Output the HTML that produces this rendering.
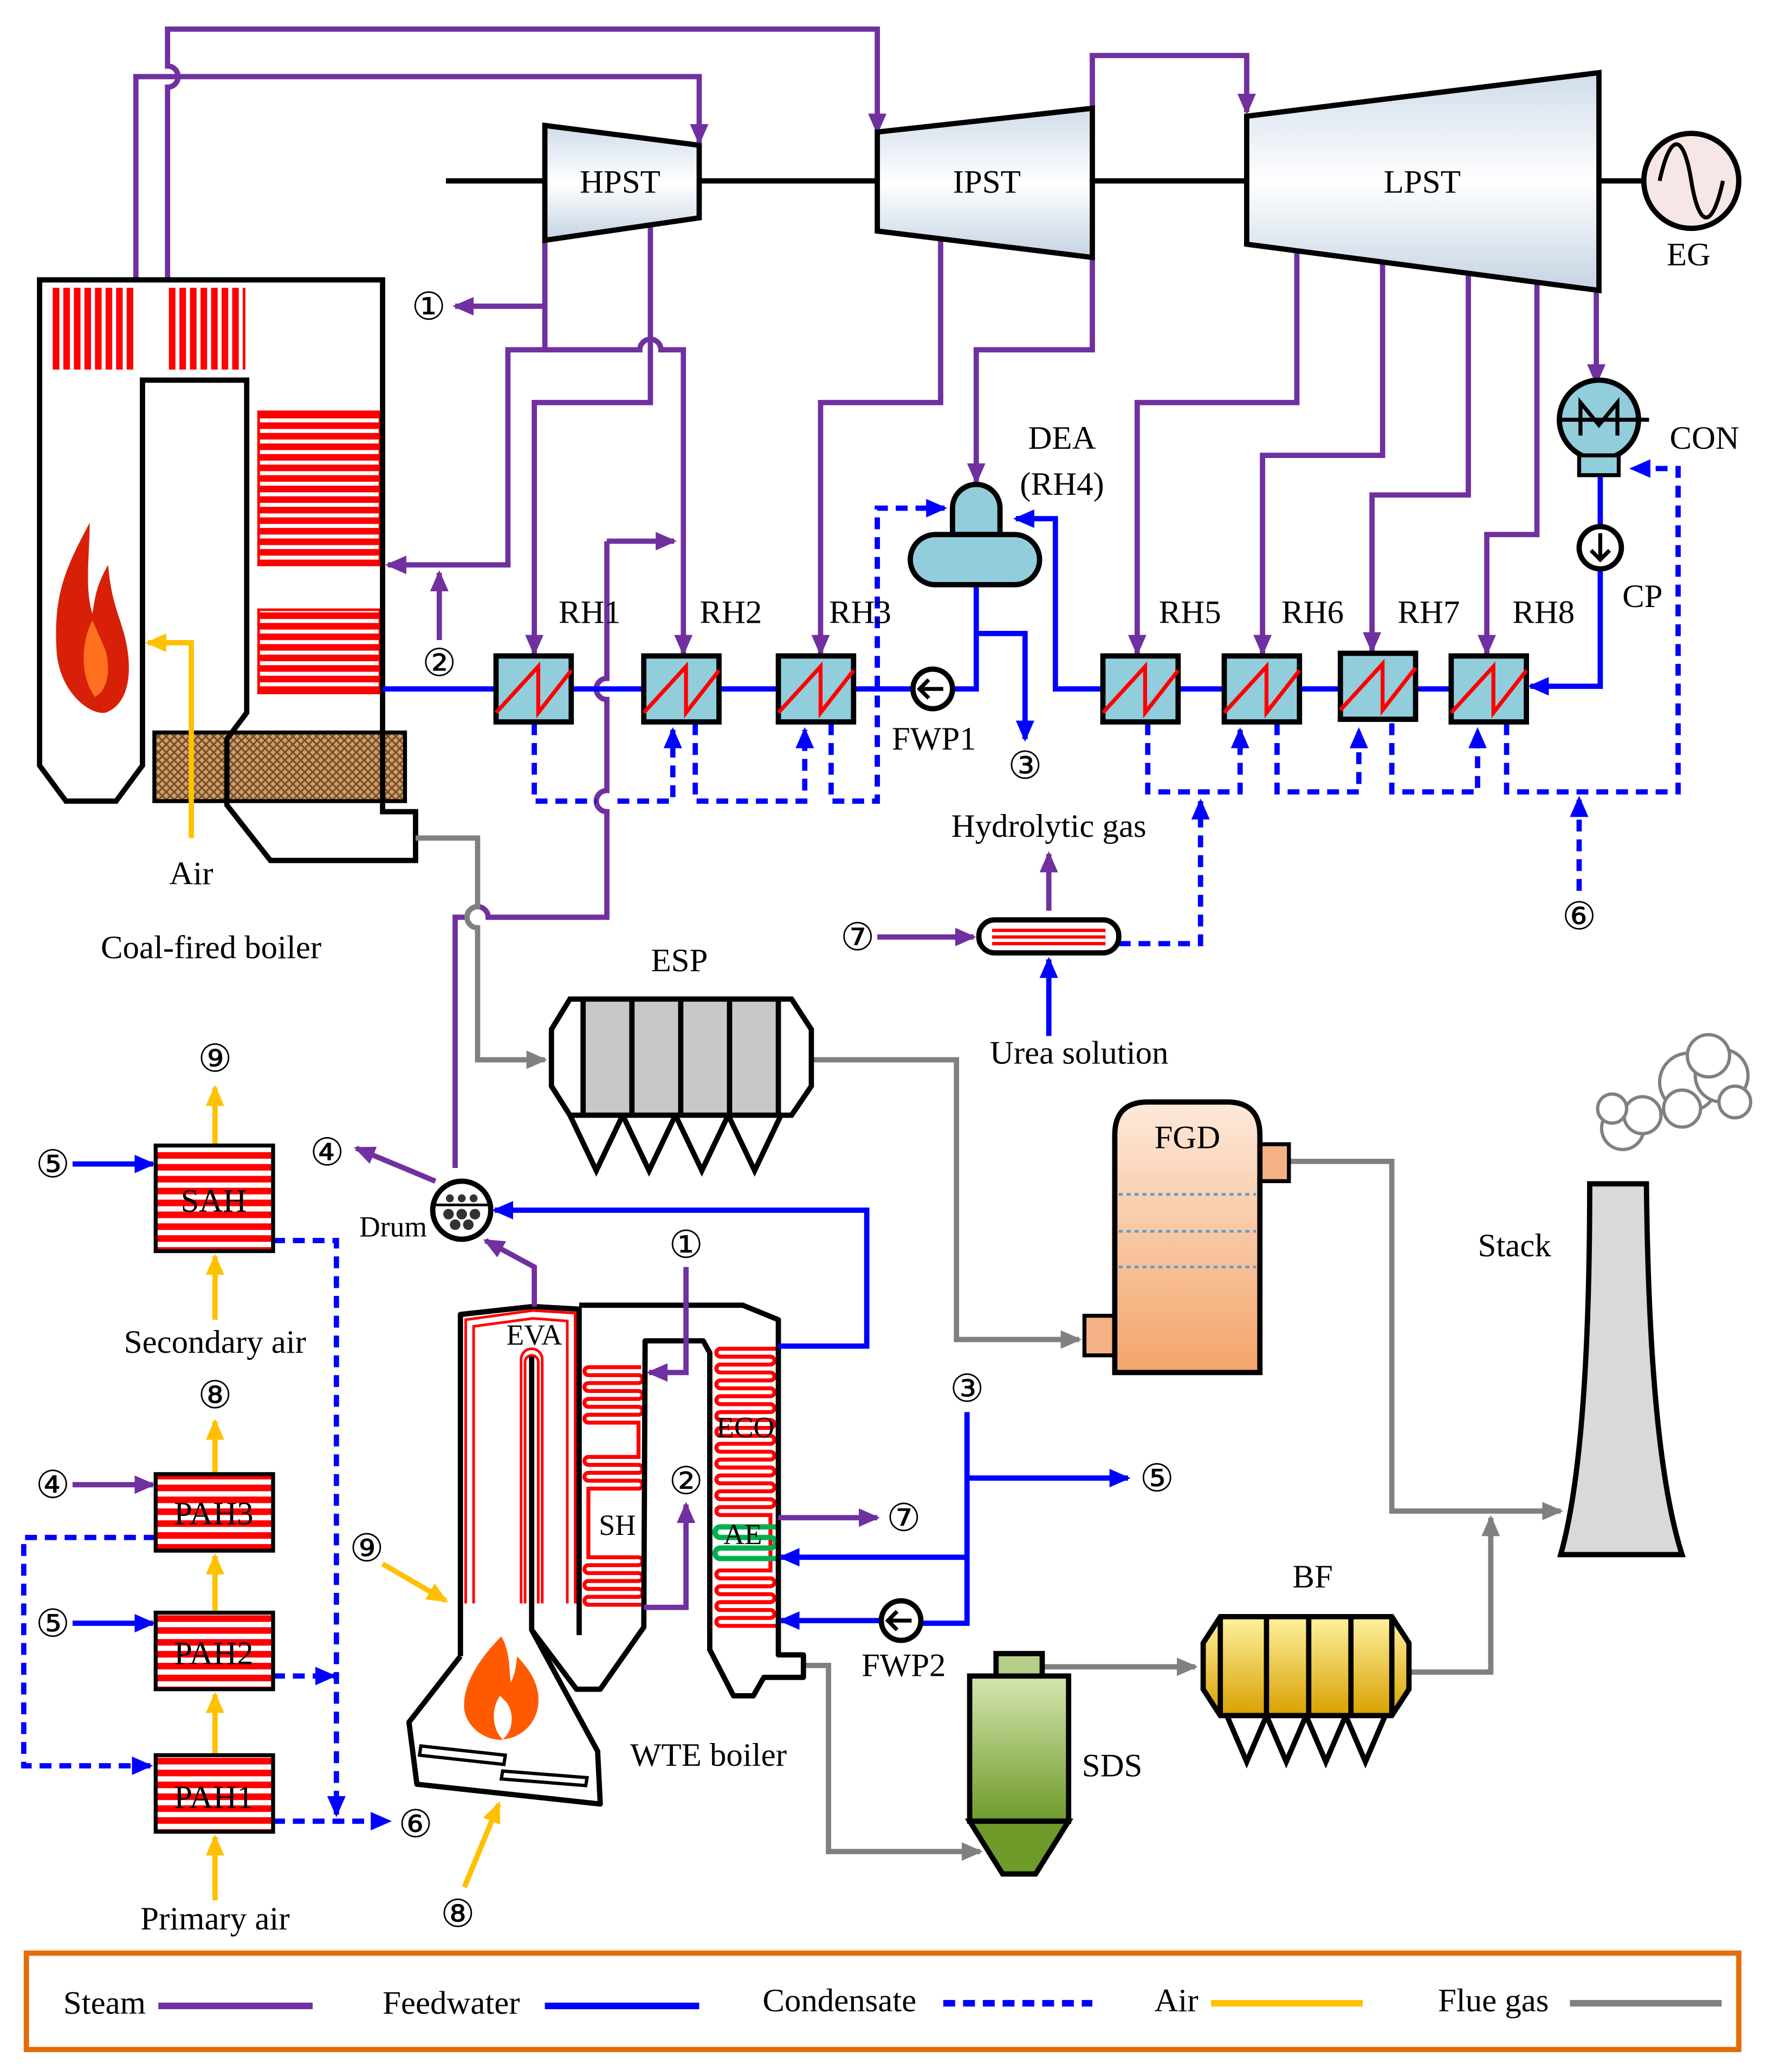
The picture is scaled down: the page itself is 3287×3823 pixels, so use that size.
<!DOCTYPE html>
<html><head><meta charset="utf-8"><style>
html,body{margin:0;padding:0;background:#fff}
svg{display:block}
text{font-family:"Liberation Serif","DejaVu Serif",serif;font-size:25px;fill:#000}
.n{font-family:"DejaVu Sans","Liberation Sans",sans-serif;font-size:29px}
</style></head><body>
<svg width="3287" height="3823" viewBox="0 0 1350 1570" xmlns="http://www.w3.org/2000/svg">
<defs>
<marker id="ap" markerWidth="16" markerHeight="14" refX="14" refY="7" orient="auto" markerUnits="userSpaceOnUse"><path d="M0,0 L16,7 L0,14 Z" fill="#7030A0"/></marker>
<marker id="ab" markerWidth="16" markerHeight="14" refX="14" refY="7" orient="auto" markerUnits="userSpaceOnUse"><path d="M0,0 L16,7 L0,14 Z" fill="#0000FF"/></marker>
<marker id="ay" markerWidth="16" markerHeight="14" refX="14" refY="7" orient="auto" markerUnits="userSpaceOnUse"><path d="M0,0 L16,7 L0,14 Z" fill="#FFC000"/></marker>
<marker id="ag" markerWidth="16" markerHeight="14" refX="14" refY="7" orient="auto" markerUnits="userSpaceOnUse"><path d="M0,0 L16,7 L0,14 Z" fill="#808080"/></marker>
<linearGradient id="tg" x1="0" y1="0" x2="0" y2="1"><stop offset="0" stop-color="#D0DCEA"/><stop offset="0.5" stop-color="#FFFFFF"/><stop offset="1" stop-color="#C5D3E3"/></linearGradient>
<linearGradient id="fg" x1="0" y1="0" x2="0" y2="1"><stop offset="0" stop-color="#FDE9DA"/><stop offset="1" stop-color="#F4A46A"/></linearGradient>
<linearGradient id="yg" x1="0" y1="0" x2="0" y2="1"><stop offset="0" stop-color="#FFF2A0"/><stop offset="1" stop-color="#D9A000"/></linearGradient>
<linearGradient id="gg" x1="0" y1="0" x2="0" y2="1"><stop offset="0" stop-color="#D6E6B0"/><stop offset="1" stop-color="#6E9A2A"/></linearGradient>
<pattern id="hatch" width="6" height="6" patternUnits="userSpaceOnUse"><rect width="6" height="6" fill="#C9A070"/><path d="M0,0L6,6M6,0L0,6" stroke="#7A4A20" stroke-width="1.2"/></pattern>
<pattern id="vs" width="8" height="8" patternUnits="userSpaceOnUse"><rect width="8" height="8" fill="#fff"/><rect width="5" height="8" fill="#FF0000"/></pattern>
<pattern id="hs" width="8" height="8" patternUnits="userSpaceOnUse"><rect width="8" height="8" fill="#fff"/><rect width="8" height="5" fill="#FF0000"/></pattern>
<pattern id="hs2" width="8" height="9" patternUnits="userSpaceOnUse"><rect width="8" height="9" fill="#fff"/><rect width="8" height="5" fill="#FF0000"/></pattern>
</defs>

<!-- Steam lines top -->
<g fill="none" stroke="#7030A0" stroke-width="4">
<path d="M103,212 V58 H530 V108" marker-end="url(#ap)"/>
<path d="M127,212 V66 A8,8 0 0 0 127,50 V22 H665 V100" marker-end="url(#ap)"/>
<path d="M828,82 V42 H945 V85" marker-end="url(#ap)"/>
<path d="M413,182 V232 H345" marker-end="url(#ap)"/>
<path d="M413,232 V265 H385 V428 H294" marker-end="url(#ap)"/>
<path d="M413,265 H485 A8,8 0 0 1 501,265 H518 V495" marker-end="url(#ap)"/>
<path d="M493,172 V305 H405 V495" marker-end="url(#ap)"/>
<path d="M333,485 V434" marker-end="url(#ap)"/>
<path d="M713,180 V305 H622 V495" marker-end="url(#ap)"/>
<path d="M828,195 V265 H740 V365" marker-end="url(#ap)"/>
<path d="M983,190 V305 H862 V495" marker-end="url(#ap)"/>
<path d="M1048,200 V345 H957 V495" marker-end="url(#ap)"/>
<path d="M1113,208 V375 H1040 V493" marker-end="url(#ap)"/>
<path d="M1165,215 V405 H1127 V495" marker-end="url(#ap)"/>
<path d="M1210,220 V290" marker-end="url(#ap)"/>
<path d="M460,410 H511" marker-end="url(#ap)"/>
<path d="M460,410 V514 A8,8 0 0 0 460,530 V599 A8,8 0 0 0 460,615 V695 H370 A8,8 0 0 0 354,695 H345 V885"/>
<path d="M665,710 H738" marker-end="url(#ap)"/>
<path d="M795,690 V647" marker-end="url(#ap)"/>
</g>

<line x1="338" y1="137" x2="1250" y2="137" stroke="#000" stroke-width="4"/>
<g stroke="#000" stroke-width="4" fill="url(#tg)">
<polygon points="413,95 530,110 530,165 413,182"/>
<polygon points="665,100 828,82 828,195 665,175"/>
<polygon points="945,88 1212,55 1212,220 945,185"/>
</g>
<text x="470" y="146" text-anchor="middle">HPST</text>
<text x="748" y="146" text-anchor="middle">IPST</text>
<text x="1078" y="146" text-anchor="middle">LPST</text>
<circle cx="1282" cy="137" r="36" fill="#F7E6E6" stroke="#000" stroke-width="4"/>
<path d="M1258,137 C1266,100 1276,100 1282,137 C1288,174 1298,174 1306,137" fill="none" stroke="#000" stroke-width="3"/>
<text x="1280" y="201" text-anchor="middle">EG</text>

<!-- Coal-fired boiler -->
<rect x="37" y="218" width="67" height="62" fill="url(#vs)"/>
<rect x="127" y="218" width="59" height="62" fill="url(#vs)"/>
<rect x="196" y="312" width="92" height="116" fill="url(#hs)" stroke="#FF0000" stroke-width="2"/>
<rect x="196" y="462" width="92" height="63" fill="url(#hs)" stroke="#FF0000" stroke-width="2"/>
<rect x="117" y="555" width="190" height="52" fill="url(#hatch)" stroke="#000" stroke-width="3"/>
<g fill="none" stroke="#000" stroke-width="4">
<path d="M30,212 H290 V615 H315 V652 H205 L172,610 V560 L187,540 V288 H108 V580 L88,607 H50 L30,580 Z"/>
</g>
<path d="M68,396 C50,430 40,450 43,495 C46,525 68,542 80,540 C97,534 102,510 94,480 C88,460 84,452 82,428 C72,445 72,455 70,465 C64,445 68,420 68,396 Z" fill="#D82008"/>
<path d="M70,470 C60,490 62,515 72,528 C84,522 84,500 78,488 Z" fill="#FF7020"/>
<path d="M145,635 V487 H112" fill="none" stroke="#FFC000" stroke-width="4" marker-end="url(#ay)"/>
<text x="145" y="670" text-anchor="middle">Air</text>
<text x="160" y="726" text-anchor="middle">Coal-fired boiler</text>
<text class="n" x="325" y="242" text-anchor="middle">①</text>
<text class="n" x="333" y="512" text-anchor="middle">②</text>

<g fill="none" stroke="#0000FF" stroke-width="4">
<path d="M290,522 H692"/>
<path d="M722,522 H740 V445"/>
<path d="M740,480 H777 V560" marker-end="url(#ab)"/>
<path d="M836,522 H800 V393 H770" marker-end="url(#ab)"/>
<path d="M836,522 H1100"/>
<path d="M1213,345 V398"/>
<path d="M1213,432 V520 H1160" marker-end="url(#ab)"/>
<path d="M795,785 V727" marker-end="url(#ab)"/>
</g>
<g fill="none" stroke="#0000FF" stroke-width="4" stroke-dasharray="9,6">
<path d="M405,548 V607 H452 M468,607 H510 V553" marker-end="url(#ab)"/>
<path d="M527,548 V607 H610 V553" marker-end="url(#ab)"/>
<path d="M630,548 V607 H665 V385 H716" marker-end="url(#ab)"/>
<path d="M870,548 V600 H940 V553" marker-end="url(#ab)"/>
<path d="M968,548 V600 H1030 V553" marker-end="url(#ab)"/>
<path d="M1055,548 V600 H1120 V553" marker-end="url(#ab)"/>
<path d="M1142,548 V600 H1272 V355 H1237" marker-end="url(#ab)"/>
<path d="M1197,675 V605" marker-end="url(#ab)"/>
<path d="M848,715 H910 V607" marker-end="url(#ab)"/>
</g>
<g stroke="#000" stroke-width="4" fill="#92CDDC">
<rect x="376" y="497" width="57" height="50"/><rect x="488" y="497" width="57" height="50"/>
<rect x="590" y="497" width="57" height="50"/><rect x="836" y="497" width="57" height="50"/>
<rect x="928" y="497" width="57" height="50"/><rect x="1016" y="495" width="57" height="50"/>
<rect x="1100" y="497" width="57" height="50"/>
</g>
<g fill="none" stroke="#FF0000" stroke-width="3">
<path d="M376,540 L408,505 V540 L433,508"/><path d="M488,540 L520,505 V540 L545,508"/>
<path d="M590,540 L622,505 V540 L647,508"/><path d="M836,540 L868,505 V540 L893,508"/>
<path d="M928,540 L960,505 V540 L985,508"/><path d="M1016,538 L1048,503 V538 L1073,506"/>
<path d="M1100,540 L1132,505 V540 L1157,508"/>
</g>
<text x="447" y="472" text-anchor="middle">RH1</text><text x="554" y="472" text-anchor="middle">RH2</text>
<text x="652" y="472" text-anchor="middle">RH3</text><text x="902" y="472" text-anchor="middle">RH5</text>
<text x="995" y="472" text-anchor="middle">RH6</text><text x="1083" y="472" text-anchor="middle">RH7</text>
<text x="1170" y="472" text-anchor="middle">RH8</text>
<circle cx="707" cy="522" r="15" fill="#fff" stroke="#000" stroke-width="4"/>
<path d="M715,522 H697 M704,515 L697,522 L704,529" fill="none" stroke="#000" stroke-width="3"/>
<text x="708" y="568" text-anchor="middle">FWP1</text>
<text class="n" x="777" y="590" text-anchor="middle">③</text>
<path d="M722,405 V385 A18,18 0 0 1 758,385 V405 Z" fill="#92CDDC" stroke="#000" stroke-width="4"/>
<rect x="690" y="405" width="98" height="38" rx="19" fill="#92CDDC" stroke="#000" stroke-width="4"/>
<text x="805" y="340" text-anchor="middle">DEA</text><text x="805" y="375" text-anchor="middle">(RH4)</text>
<circle cx="1212" cy="318" r="30" fill="#92CDDC" stroke="#000" stroke-width="4"/>
<rect x="1197" y="345" width="30" height="15" fill="#92CDDC" stroke="#000" stroke-width="3"/>
<path d="M1182,318 H1250 M1198,330 V305 L1212,322 L1226,305 V330" fill="none" stroke="#000" stroke-width="3"/>
<text x="1292" y="340" text-anchor="middle">CON</text>
<circle cx="1213" cy="415" r="16" fill="#fff" stroke="#000" stroke-width="4"/>
<path d="M1213,404 V424 M1206,417 L1213,424 L1220,417" fill="none" stroke="#000" stroke-width="3"/>
<text x="1245" y="460" text-anchor="middle">CP</text>
<text class="n" x="1197" y="704" text-anchor="middle">⑥</text>
<rect x="742" y="697" width="106" height="25" rx="12" fill="#fff" stroke="#000" stroke-width="4"/>
<path d="M752,705 H838 M752,710 H838 M752,715 H838" stroke="#FF0000" stroke-width="2.5"/>
<text class="n" x="650" y="720" text-anchor="middle">⑦</text>
<text x="795" y="634" text-anchor="middle">Hydrolytic gas</text>
<text x="818" y="806" text-anchor="middle">Urea solution</text>

<g fill="none" stroke="#808080" stroke-width="4">
<path d="M315,635 H362 V687 A8,8 0 0 0 362,703 V803 H413" marker-end="url(#ag)"/>
<path d="M615,803 H725 V1015 H818" marker-end="url(#ag)"/>
<path d="M977,880 H1055 V1145 H1183" marker-end="url(#ag)"/>
<path d="M1068,1267 H1130 V1150" marker-end="url(#ag)"/>
<path d="M790,1263 H906" marker-end="url(#ag)"/>
<path d="M609,1262 H628 V1403 H743" marker-end="url(#ag)"/>
</g>
<g stroke="#000" stroke-width="4">
<path d="M432,845 L452,887 L472,845 L492,887 L512,845 L532,887 L552,845 L572,887 L592,845" fill="#fff"/>
<polygon points="418,780 432,757 600,757 615,780 615,823 600,845 432,845 418,823" fill="#fff"/>
<rect x="442" y="757" width="37" height="88" fill="#C8C8C8"/><rect x="479" y="757" width="37" height="88" fill="#C8C8C8"/>
<rect x="516" y="757" width="37" height="88" fill="#C8C8C8"/><rect x="553" y="757" width="37" height="88" fill="#C8C8C8"/>
</g>
<text x="515" y="736" text-anchor="middle">ESP</text>
<rect x="822" y="997" width="23" height="30" fill="#F4B183" stroke="#000" stroke-width="3"/>
<rect x="955" y="867" width="22" height="28" fill="#F4B183" stroke="#000" stroke-width="3"/>
<path d="M845,1040 V860 Q845,835 870,835 H930 Q955,835 955,860 V1040 Z" fill="url(#fg)" stroke="#000" stroke-width="4"/>
<g stroke="#5B9BD5" stroke-width="2" stroke-dasharray="3,3"><path d="M848,905 H952 M848,933 H952 M848,960 H952"/></g>
<text x="900" y="870" text-anchor="middle">FGD</text>
<path d="M1205,897 H1248 Q1250,1100 1275,1178 H1183 Q1205,1100 1205,897 Z" fill="#D9D9D9" stroke="#000" stroke-width="4"/>
<text x="1148" y="952" text-anchor="middle">Stack</text>
<g fill="#fff" stroke="#808080" stroke-width="2.5">
<circle cx="1230" cy="855" r="16"/><circle cx="1245" cy="845" r="14"/><circle cx="1222" cy="840" r="11"/>
<circle cx="1280" cy="820" r="22"/><circle cx="1305" cy="815" r="20"/><circle cx="1295" cy="800" r="16"/><circle cx="1275" cy="840" r="14"/><circle cx="1315" cy="835" r="12"/>
</g>
<g stroke="#000" stroke-width="4">
<path d="M930,1300 L945,1335 L960,1300 L975,1335 L990,1300 L1005,1335 L1020,1300 L1035,1335 L1050,1300" fill="#fff"/>
<polygon points="912,1245 925,1225 1055,1225 1068,1245 1068,1280 1055,1300 925,1300 912,1280" fill="url(#yg)"/>
<path d="M925,1225 V1300 M960,1225 V1300 M992,1225 V1300 M1024,1225 V1300 M1055,1225 V1300" fill="none"/>
</g>
<text x="995" y="1203" text-anchor="middle">BF</text>
<g stroke="#000" stroke-width="4">
<rect x="755" y="1253" width="35" height="17" fill="#B5CF88"/>
<rect x="735" y="1270" width="75" height="110" fill="url(#gg)"/>
<polygon points="735,1380 810,1380 785,1420 760,1420" fill="#6E9A2A"/>
</g>
<text x="843" y="1346" text-anchor="middle">SDS</text>

<!-- WTE boiler -->
<g fill="none" stroke="#FF0000" stroke-width="2">
<path d="M353,1215 V1000 L404,993 L436,995 V1215 M359,1215 V1005 L404,999 L430,1001 V1215"/>
<path d="M398,1215 V1032 A5,5 0 0 1 408,1032 V1215 M395,1215 V1030 A8,8 0 0 1 411,1030 V1215"/>
</g>
<g fill="none" stroke="#FF0000" stroke-width="3">
<path d="M486,1036 H446 A2.5,2.5 0 0 0 446,1042 H484 A2.5,2.5 0 0 1 484,1048 H446 A2.5,2.5 0 0 0 446,1054 H484 A2.5,2.5 0 0 1 484,1060 H446 A2.5,2.5 0 0 0 446,1066 H484 A2.5,2.5 0 0 1 484,1072 H446 A2.5,2.5 0 0 0 446,1078 H484 V1104 H446 A2.5,2.5 0 0 0 446,1110 H484 A2.5,2.5 0 0 1 484,1116 H446 A2.5,2.5 0 0 0 446,1122 H484 A2.5,2.5 0 0 1 484,1128 H446 V1180 H484 A2.5,2.5 0 0 1 484,1186 H446 A2.5,2.5 0 0 0 446,1192 H484 A2.5,2.5 0 0 1 484,1198 H446 A2.5,2.5 0 0 0 446,1204 H484 A2.5,2.5 0 0 1 484,1210 H446 A2.5,2.5 0 0 0 446,1216 H486"/>
<path d="M589,1022 H546 A3,3 0 0 0 546,1028 H584 A3,3 0 0 1 584,1034 H546 A3,3 0 0 0 546,1040 H584 A3,3 0 0 1 584,1046 H546 A3,3 0 0 0 546,1052 H584 A3,3 0 0 1 584,1058 H546 A3,3 0 0 0 546,1064 H584 A3,3 0 0 1 584,1070 H546 A3,3 0 0 0 546,1076 H584 A3,3 0 0 1 584,1082 H546 A3,3 0 0 0 546,1088 H584 A3,3 0 0 1 584,1094 H546 A3,3 0 0 0 546,1100 H584 A3,3 0 0 1 584,1106 H546 A3,3 0 0 0 546,1112 H584 A3,3 0 0 1 584,1118 H546 A3,3 0 0 0 546,1124 H584 A3,3 0 0 1 584,1130 H546 A3,3 0 0 0 546,1136 H584 A3,3 0 0 1 584,1142 H546 A3,3 0 0 0 546,1148 H584 V1190 H546 A3,3 0 0 0 546,1196 H584 A3,3 0 0 1 584,1202 H546 A3,3 0 0 0 546,1208 H584 A3,3 0 0 1 584,1214 H546 A3,3 0 0 0 546,1220 H584 A3,3 0 0 1 584,1226 H546 A3,3 0 0 0 546,1232 H589"/>
</g>
<path d="M589,1157 H546 A3,3 0 0 0 546,1165 H584 A3,3 0 0 1 584,1173 H546 A3,3 0 0 0 546,1181 H589" fill="none" stroke="#00B050" stroke-width="4"/>
<g fill="none" stroke="#000" stroke-width="4" stroke-linejoin="round">
<path d="M349,1255 V996 L404,990 L439,992 V1239"/>
<path d="M439,989 H563 L590,1000 V1254 H609 V1271 H579 L571,1285 H556 L538,1250 V1025 L533,1016 H489 L488,1233 L455,1280 H437 L403,1235"/>
<path d="M349,1255 L310,1305 L316,1352 L455,1367 L453,1327 L403,1235 V1028"/>
</g>
<path d="M380,1240 C362,1258 350,1278 352,1296 C355,1312 372,1320 382,1318 C398,1316 410,1302 408,1284 C406,1270 398,1262 392,1255 C391,1266 389,1272 387,1275 C386,1262 386,1250 380,1240 Z" fill="#FF5A00"/>
<path d="M379,1285 C372,1295 373,1310 381,1318 C389,1312 390,1298 384,1290 Z" fill="#fff"/>
<g fill="#fff" stroke="#000" stroke-width="2.5"><polygon points="319,1323 383,1330 382,1337 318,1330"/><polygon points="381,1342 445,1347 444,1353 380,1348"/></g>
<text x="405" y="1019" text-anchor="middle" style="font-size:22px">EVA</text>
<text x="468" y="1163" text-anchor="middle" style="font-size:22px">SH</text>
<text x="565" y="1089" text-anchor="middle" style="font-size:22px">ECO</text>
<text x="563" y="1170" text-anchor="middle" style="font-size:22px">AE</text>
<text x="537" y="1338" text-anchor="middle">WTE boiler</text>
<g fill="none" stroke="#7030A0" stroke-width="4">
<path d="M405,990 V960 L368,940" marker-end="url(#ap)"/>
<path d="M330,895 L270,870" marker-end="url(#ap)"/>
<path d="M520,960 V1040 H492" marker-end="url(#ap)"/>
<path d="M488,1218 H520 V1140" marker-end="url(#ap)"/>
<path d="M590,1150 H665" marker-end="url(#ap)"/>
<path d="M55,1125 H116" marker-end="url(#ap)"/>
</g>
<g fill="none" stroke="#0000FF" stroke-width="4">
<path d="M590,1020 H657 V917 H375" marker-end="url(#ab)"/>
<path d="M733,1070 V1230 H698"/>
<path d="M668,1228 H592" marker-end="url(#ab)"/>
<path d="M733,1180 H592" marker-end="url(#ab)"/>
<path d="M733,1120 H855" marker-end="url(#ab)"/>
<path d="M55,882 H116" marker-end="url(#ab)"/>
<path d="M55,1230 H116" marker-end="url(#ab)"/>
</g>
<circle cx="350" cy="917" r="22" fill="#fff" stroke="#000" stroke-width="4"/>
<path d="M330,913 H370" stroke="#000" stroke-width="2"/>
<g fill="#333"><circle cx="340" cy="920" r="4"/><circle cx="350" cy="920" r="4"/><circle cx="360" cy="920" r="4"/><circle cx="345" cy="928" r="4"/><circle cx="355" cy="928" r="4"/><circle cx="350" cy="908" r="3"/><circle cx="341" cy="908" r="3"/><circle cx="359" cy="908" r="3"/></g>
<text x="298" y="937" text-anchor="middle" style="font-size:22px">Drum</text>
<circle cx="683" cy="1228" r="15" fill="#fff" stroke="#000" stroke-width="4"/>
<path d="M691,1228 H673 M680,1221 L673,1228 L680,1235" fill="none" stroke="#000" stroke-width="3"/>
<text x="685" y="1270" text-anchor="middle">FWP2</text>
<g fill="none" stroke="#FFC000" stroke-width="4">
<path d="M290,1185 L338,1213" marker-end="url(#ay)"/>
<path d="M352,1430 L378,1367" marker-end="url(#ay)"/>
<path d="M163,868 V824" marker-end="url(#ay)"/>
<path d="M163,1000 V952" marker-end="url(#ay)"/>
<path d="M163,1117 V1077" marker-end="url(#ay)"/>
<path d="M163,1222 V1179" marker-end="url(#ay)"/>
<path d="M163,1330 V1284" marker-end="url(#ay)"/>
<path d="M163,1440 V1392" marker-end="url(#ay)"/>
</g>
<g fill="none" stroke="#0000FF" stroke-width="4" stroke-dasharray="9,6">
<path d="M207,940 H255 V1375" marker-end="url(#ab)"/>
<path d="M207,1270 H253" marker-end="url(#ab)"/>
<path d="M207,1380 H295" marker-end="url(#ab)"/>
<path d="M118,1165 H18 V1338 H114" marker-end="url(#ab)"/>
</g>
<g stroke="#000" stroke-width="3" fill="url(#hs2)">
<rect x="118" y="868" width="89" height="80"/><rect x="118" y="1117" width="89" height="58"/>
<rect x="118" y="1222" width="89" height="58"/><rect x="118" y="1330" width="89" height="58"/>
</g>
<g style="font-size:24px">
<text x="162" y="918" text-anchor="middle" fill="#7F0000">SAH</text>
<text x="162" y="1155" text-anchor="middle">PAH3</text>
<text x="162" y="1261" text-anchor="middle">PAH2</text>
<text x="162" y="1370" text-anchor="middle">PAH1</text>
</g>
<text x="163" y="1025" text-anchor="middle">Secondary air</text>
<text x="163" y="1462" text-anchor="middle">Primary air</text>
<text class="n" x="163" y="812" text-anchor="middle">⑨</text>
<text class="n" x="40" y="892" text-anchor="middle">⑤</text>
<text class="n" x="163" y="1067" text-anchor="middle">⑧</text>
<text class="n" x="40" y="1135" text-anchor="middle">④</text>
<text class="n" x="40" y="1240" text-anchor="middle">⑤</text>
<text class="n" x="315" y="1392" text-anchor="middle">⑥</text>
<text class="n" x="248" y="883" text-anchor="middle">④</text>
<text class="n" x="278" y="1183" text-anchor="middle">⑨</text>
<text class="n" x="347" y="1460" text-anchor="middle">⑧</text>
<text class="n" x="520" y="953" text-anchor="middle">①</text>
<text class="n" x="520" y="1132" text-anchor="middle">②</text>
<text class="n" x="685" y="1160" text-anchor="middle">⑦</text>
<text class="n" x="733" y="1062" text-anchor="middle">③</text>
<text class="n" x="877" y="1130" text-anchor="middle">⑤</text>

<rect x="20" y="1480" width="1298" height="73" fill="none" stroke="#E46C0A" stroke-width="4"/>
<text x="48" y="1526">Steam</text><line x1="120" y1="1520" x2="237" y2="1520" stroke="#7030A0" stroke-width="5"/>
<text x="290" y="1526">Feedwater</text><line x1="413" y1="1520" x2="530" y2="1520" stroke="#0000FF" stroke-width="5"/>
<text x="578" y="1524">Condensate</text><line x1="715" y1="1518" x2="828" y2="1518" stroke="#0000FF" stroke-width="5" stroke-dasharray="9,6"/>
<text x="875" y="1524">Air</text><line x1="918" y1="1518" x2="1033" y2="1518" stroke="#FFC000" stroke-width="5"/>
<text x="1090" y="1524">Flue gas</text><line x1="1190" y1="1518" x2="1305" y2="1518" stroke="#808080" stroke-width="5"/>
</svg>
</body></html>
